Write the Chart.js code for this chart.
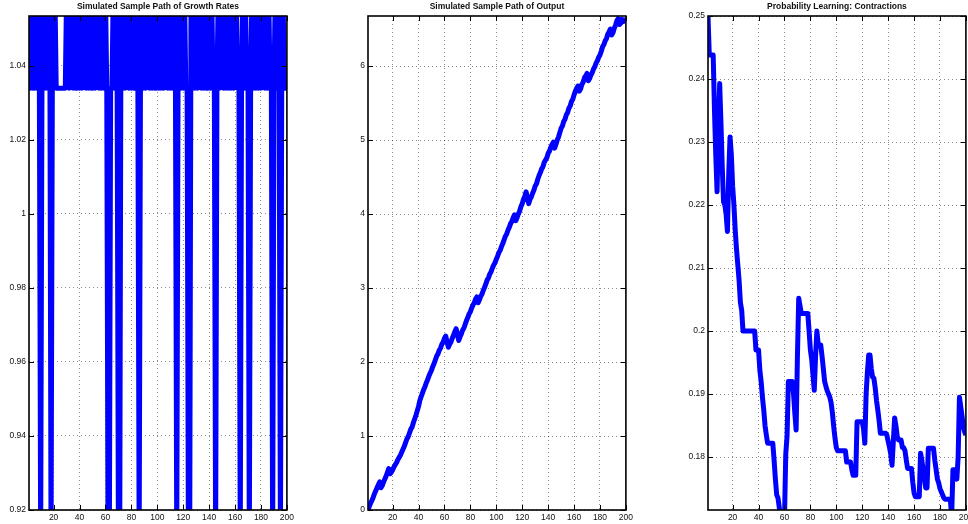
<!DOCTYPE html>
<html>
<head>
<meta charset="utf-8">
<script src="https://cdn.jsdelivr.net/npm/chart.js@4.4.1/dist/chart.umd.min.js"></script>
<style>
html, body { margin: 0; padding: 0; background: #fff; width: 968px; height: 524px; overflow: hidden; position: relative; }
canvas { position: absolute; top: 0; }
</style>
</head>
<body>
<canvas id="growthChart" width="308" height="524" style="left:-11px"></canvas>
<canvas id="outputChart" width="308" height="524" style="left:328px"></canvas>
<canvas id="probChart" width="308" height="524" style="left:668px"></canvas>
<script>
// Data
const periods = Array.from({ length: 200 }, (_, i) => i + 1);
const xTicks = [20, 40, 60, 80, 100, 120, 140, 160, 180, 200];

const growthRates = [
  1.06, 1.034, 1.06, 1.034, 1.034, 1.06, 1.034, 1.06, 1.034, 0.91,
  1.034, 1.06, 1.06, 1.034, 1.06, 1.034, 1.06, 0.91, 1.034, 1.034,
  1.06, 1.034, 1.034, 1.034, 1.034, 1.034, 1.034, 1.034, 1.034, 1.06,
  1.06, 1.034, 1.06, 1.06, 1.034, 1.06, 1.034, 1.034, 1.06, 1.034,
  1.06, 1.034, 1.06, 1.06, 1.034, 1.06, 1.034, 1.06, 1.034, 1.034,
  1.06, 1.034, 1.06, 1.06, 1.034, 1.06, 1.034, 1.06, 1.034, 1.06,
  1.034, 0.91, 0.91, 1.034, 1.034, 1.06, 1.034, 1.06, 1.034, 0.91,
  0.91, 1.06, 1.034, 1.06, 1.034, 1.06, 1.06, 1.034, 1.06, 1.034,
  1.06, 1.034, 1.034, 1.06, 1.034, 0.91, 1.034, 1.06, 1.034, 1.06,
  1.034, 1.06, 1.06, 1.034, 1.06, 1.034, 1.06, 1.034, 1.034, 1.06,
  1.034, 1.06, 1.034, 1.06, 1.034, 1.06, 1.06, 1.034, 1.06, 1.034,
  1.06, 1.034, 1.06, 1.034, 0.91, 1.034, 1.06, 1.034, 1.06, 1.034,
  1.06, 1.034, 1.034, 0.91, 0.91, 1.06, 1.034, 1.06, 1.034, 1.06,
  1.034, 1.06, 1.06, 1.034, 1.06, 1.034, 1.06, 1.034, 1.034, 1.06,
  1.034, 1.06, 1.034, 1.034, 0.91, 1.034, 1.06, 1.034, 1.06, 1.06,
  1.034, 1.06, 1.034, 1.06, 1.034, 1.06, 1.034, 1.06, 1.034, 1.06,
  1.06, 1.034, 1.034, 0.91, 1.034, 1.06, 1.034, 1.06, 1.034, 1.034,
  0.91, 1.034, 1.06, 1.034, 1.06, 1.034, 1.06, 1.034, 1.06, 1.034,
  1.06, 1.06, 1.034, 1.06, 1.034, 1.06, 1.034, 1.034, 0.91, 1.034,
  1.06, 1.034, 1.06, 1.034, 0.91, 1.034, 1.06, 1.034, 1.034, 1.034
];

const output = [
  0, 0.05, 0.09, 0.13, 0.17, 0.22, 0.26, 0.30, 0.34, 0.38,
  0.30, 0.33, 0.38, 0.42, 0.46, 0.51, 0.56, 0.49, 0.51, 0.54,
  0.58, 0.61, 0.64, 0.68, 0.71, 0.74, 0.78, 0.82, 0.86, 0.91,
  0.96, 0.99, 1.04, 1.09, 1.12, 1.18, 1.23, 1.28, 1.34, 1.40,
  1.48, 1.53, 1.58, 1.63, 1.67, 1.72, 1.76, 1.81, 1.85, 1.89,
  1.94, 1.98, 2.03, 2.08, 2.11, 2.16, 2.19, 2.24, 2.27, 2.32,
  2.35, 2.27, 2.20, 2.24, 2.27, 2.32, 2.36, 2.41, 2.45, 2.37,
  2.29, 2.34, 2.38, 2.43, 2.46, 2.51, 2.56, 2.60, 2.65, 2.68,
  2.73, 2.77, 2.80, 2.85, 2.88, 2.80, 2.84, 2.89, 2.92, 2.97,
  3.01, 3.06, 3.11, 3.14, 3.19, 3.22, 3.27, 3.31, 3.34, 3.39,
  3.43, 3.48, 3.51, 3.56, 3.60, 3.65, 3.70, 3.73, 3.78, 3.82,
  3.87, 3.90, 3.95, 3.99, 3.91, 3.95, 4.00, 4.04, 4.10, 4.14,
  4.20, 4.24, 4.30, 4.22, 4.14, 4.20, 4.23, 4.28, 4.32, 4.38,
  4.41, 4.47, 4.52, 4.56, 4.61, 4.64, 4.70, 4.73, 4.76, 4.82,
  4.85, 4.90, 4.94, 4.97, 4.89, 4.94, 5.00, 5.04, 5.10, 5.16,
  5.19, 5.25, 5.28, 5.34, 5.37, 5.43, 5.46, 5.52, 5.55, 5.61,
  5.66, 5.70, 5.73, 5.66, 5.69, 5.75, 5.78, 5.84, 5.87, 5.90,
  5.80, 5.83, 5.88, 5.91, 5.96, 5.99, 6.04, 6.07, 6.12, 6.15,
  6.20, 6.26, 6.29, 6.34, 6.37, 6.43, 6.46, 6.50, 6.42, 6.45,
  6.51, 6.55, 6.61, 6.64, 6.56, 6.58, 6.63, 6.60, 6.62, 6.63
];

const contractionProb = [
  0.25, 0.2438, 0.2438, 0.2438, 0.2438, 0.235, 0.228, 0.2221, 0.232, 0.2393,
  0.233, 0.226, 0.2205, 0.22, 0.2185, 0.2158, 0.225, 0.2308, 0.228, 0.223,
  0.22, 0.216, 0.213, 0.2105, 0.208, 0.2045, 0.2033, 0.2, 0.2, 0.2,
  0.2, 0.2, 0.2, 0.2, 0.2, 0.2, 0.2, 0.197, 0.197, 0.197,
  0.1938, 0.192, 0.1895, 0.1875, 0.185, 0.1835, 0.1822, 0.1822, 0.1822, 0.1822,
  0.1822, 0.1795, 0.1765, 0.174, 0.1735, 0.172, 0.170, 0.170, 0.170, 0.170,
  0.1805, 0.1833, 0.192, 0.192, 0.192, 0.192, 0.19, 0.187, 0.1843, 0.196,
  0.2052, 0.204, 0.2028, 0.2028, 0.2028, 0.2028, 0.2028, 0.2028, 0.2, 0.197,
  0.1955, 0.193, 0.1906, 0.196, 0.2, 0.198, 0.1978, 0.1978, 0.196, 0.194,
  0.192, 0.1912, 0.1905, 0.19, 0.1895, 0.1886, 0.187, 0.1848, 0.183, 0.1815,
  0.181, 0.181, 0.181, 0.181, 0.181, 0.181, 0.181, 0.1792, 0.1792, 0.1792,
  0.1792, 0.178, 0.1771, 0.1771, 0.1771, 0.1856, 0.1856, 0.1856, 0.1856, 0.1856,
  0.1845, 0.1822, 0.19, 0.1935, 0.1962, 0.1962, 0.194, 0.1927, 0.1925, 0.191,
  0.189, 0.1875, 0.1858, 0.1838, 0.1838, 0.1838, 0.1838, 0.1838, 0.1835, 0.1825,
  0.1816, 0.1805, 0.1787, 0.1825, 0.1862, 0.185, 0.1833, 0.1827, 0.1827, 0.1827,
  0.1815, 0.1815, 0.181, 0.1795, 0.1782, 0.1782, 0.1782, 0.1782, 0.176, 0.1743,
  0.1737, 0.1737, 0.1737, 0.1737, 0.1806, 0.1795, 0.178, 0.1765, 0.1751, 0.1751,
  0.1814, 0.1814, 0.1814, 0.1814, 0.1814, 0.1795, 0.178, 0.1765, 0.1759, 0.175,
  0.1745, 0.174, 0.1735, 0.1733, 0.1733, 0.1733, 0.1733, 0.1733, 0.1705, 0.178,
  0.178, 0.178, 0.1765, 0.18, 0.1895, 0.188, 0.1865, 0.1848, 0.184, 0.1835
];

const growthTicks = [0.92, 0.94, 0.96, 0.98, 1, 1.02, 1.04];
const outputTicks = [0, 1, 2, 3, 4, 5, 6];
const probTicks = [0.18, 0.19, 0.2, 0.21, 0.22, 0.23, 0.24, 0.25];

const tickFont = { family: 'Liberation Sans, Arial, sans-serif', size: 8.5 };

// inward tick marks on all four sides plus the black box, matlab style
const boxTicks = {
  id: 'boxTicks',
  afterDatasetsDraw(chart) {
    const { ctx, chartArea: a, scales } = chart;
    const x = scales.x, y = scales.y;
    ctx.save();
    ctx.strokeStyle = '#000';
    ctx.lineWidth = 1;
    ctx.beginPath();
    x.ticks.forEach(t => {
      const px = Math.round(x.getPixelForValue(t.value)) + 0.5;
      ctx.moveTo(px, a.bottom); ctx.lineTo(px, a.bottom - 5);
      ctx.moveTo(px, a.top); ctx.lineTo(px, a.top + 5);
    });
    y.ticks.forEach(t => {
      const py = Math.round(y.getPixelForValue(t.value)) + 0.5;
      ctx.moveTo(a.left, py); ctx.lineTo(a.left + 5, py);
      ctx.moveTo(a.right, py); ctx.lineTo(a.right - 5, py);
    });
    ctx.stroke();
    ctx.lineWidth = 1.6;
    ctx.strokeRect(a.left, a.top, a.right - a.left, a.bottom - a.top);
    ctx.restore();
  }
};

function makePanel(id, title, values, yMin, yMax, yTicks) {
  new Chart(document.getElementById(id), {
    type: 'line',
    data: {
      labels: periods,
      datasets: [{
        data: values,
        borderColor: '#0000ff',
        borderWidth: 5,
        pointRadius: 0,
        tension: 0,
        borderJoinStyle: 'round',
        clip: 0
      }]
    },
    options: {
      responsive: false,
      animation: false,
      layout: { padding: { top: 0, right: 10, bottom: 0, left: 0 } },
      plugins: {
        legend: { display: false },
        tooltip: { enabled: false },
        title: {
          display: true,
          text: title,
          fullSize: false,
          color: '#111',
          font: { family: 'Liberation Sans, Arial, sans-serif', size: 8.5, weight: 'bold', lineHeight: 1.2 },
          padding: { top: 2, bottom: 3.8 }
        }
      },
      scales: {
        x: {
          type: 'linear',
          min: 1,
          max: 200,
          afterBuildTicks: s => { s.ticks = xTicks.map(v => ({ value: v })); },
          afterFit: s => { s.height = 14; },
          grid: { color: 'rgba(0,0,0,0.45)', drawTicks: false },
          border: { display: false, dash: [1, 3] },
          ticks: { font: tickFont, color: '#111', padding: 3, maxRotation: 0, autoSkip: false }
        },
        y: {
          min: yMin,
          max: yMax,
          afterBuildTicks: s => { s.ticks = yTicks.map(v => ({ value: v })); },
          afterFit: s => { s.width = 40; },
          grid: { color: 'rgba(0,0,0,0.45)', drawTicks: false },
          border: { display: false, dash: [1, 3] },
          ticks: { font: tickFont, color: '#111', padding: 3, callback: v => String(+v.toFixed(2)) }
        }
      }
    },
    plugins: [boxTicks]
  });
}

makePanel('growthChart', 'Simulated Sample Path of Growth Rates', growthRates, 0.92, 1.0535, growthTicks);
makePanel('outputChart', 'Simulated Sample Path of Output', output, 0, 6.676, outputTicks);
makePanel('probChart', 'Probability Learning: Contractions', contractionProb, 0.1716, 0.25, probTicks);
</script>
</body>
</html>
